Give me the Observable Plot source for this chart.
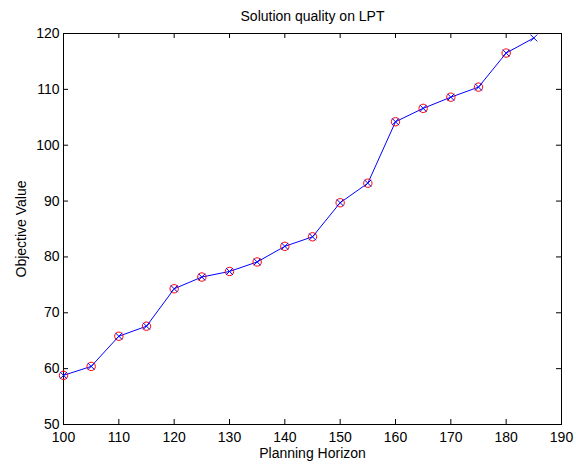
<!DOCTYPE html>
<html><head><meta charset="utf-8">
<script src="https://cdn.jsdelivr.net/npm/d3@7"></script>
<script src="https://cdn.jsdelivr.net/npm/@observablehq/plot@0.6"></script>
<style>body{margin:0;background:#fff} svg{display:block}</style>
</head><body><div id="chart"></div>
<script>
// Data
const horizons = [100,105,110,115,120,125,130,135,140,145,150,155,160,165,170,175,180,185];
const objective = [58.8,60.4,65.8,67.6,74.3,76.4,77.4,79.1,81.9,83.6,89.7,93.2,104.2,106.6,108.6,110.4,116.5,119.2];
const circleHorizons = [100,105,110,115,120,125,130,135,140,145,150,155,160,165,170,175,180];
const circleValues = [58.8,60.4,65.8,67.6,74.3,76.4,77.4,79.1,81.9,83.6,89.7,93.2,104.2,106.6,108.6,110.4,116.5];
const xTicks = [100,110,120,130,140,150,160,170,180,190];
const yTicks = [50,60,70,80,90,100,110,120];
const titleText = "Solution quality on LPT";
const xLabel = "Planning Horizon";
const yLabel = "Objective Value";

const lineData = horizons.map((h, i) => ({h, v: objective[i]}));
const circleData = circleHorizons.map((h, i) => ({h, v: circleValues[i]}));

const W = 576, H = 467, mL = 63, mR = 15, mT = 33, mB = 43;
const plotW = W - mL - mR, plotH = H - mT - mB, tick = 5;

const chart = Plot.plot({
  width: W, height: H,
  marginLeft: mL, marginRight: mR, marginTop: mT, marginBottom: mB,
  style: {fontFamily: "'Liberation Sans', Arial, sans-serif", fontSize: "14px", background: "#fff", color: "#000"},
  x: {domain: [100, 190], label: null},
  y: {domain: [50, 120], label: null},
  marks: [
    // inward ticks on all four sides
    Plot.gridX(xTicks, {stroke: "#000", strokeOpacity: 1, insetTop: plotH - tick}),
    Plot.gridX(xTicks, {stroke: "#000", strokeOpacity: 1, insetBottom: plotH - tick}),
    Plot.gridY(yTicks, {stroke: "#000", strokeOpacity: 1, insetRight: plotW - tick}),
    Plot.gridY(yTicks, {stroke: "#000", strokeOpacity: 1, insetLeft: plotW - tick}),
    Plot.axisX(xTicks, {anchor: "bottom", tickSize: 0, tickPadding: 8, fontSize: 14}),
    Plot.axisY(yTicks, {anchor: "left", tickSize: 0, tickPadding: 4, fontSize: 14}),
    Plot.frame({stroke: "#000", strokeWidth: 1}),
    Plot.line(lineData, {x: "h", y: "v", stroke: "#0000ff", strokeWidth: 1}),
    Plot.dot(circleData, {x: "h", y: "v", r: 4.2, stroke: "#ff0000", strokeWidth: 1, fill: "none"}),
    Plot.dot(lineData, {x: "h", y: "v", symbol: "times", r: 3.2, stroke: "#0000ff", strokeWidth: 1}),
    Plot.text([titleText], {frameAnchor: "top", lineAnchor: "middle", dy: -17, fontSize: 14}),
    Plot.text([xLabel], {frameAnchor: "bottom", lineAnchor: "middle", dy: 29, fontSize: 14}),
    Plot.text([yLabel], {frameAnchor: "left", textAnchor: "middle", lineAnchor: "middle", dx: -42, rotate: -90, fontSize: 14})
  ]
});
document.getElementById("chart").appendChild(chart);
</script>
</body></html>
